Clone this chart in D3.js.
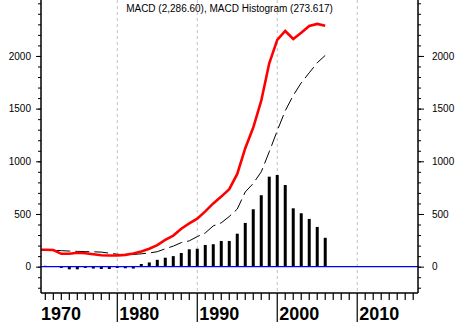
<!DOCTYPE html>
<html>
<head>
<meta charset="utf-8">
<script src="https://cdn.jsdelivr.net/npm/d3@7"></script>
<style>
    body { margin: 0; background: #fff; }
    svg { display: block; font-family: Arial, "Liberation Sans", sans-serif; }
</style>
</head>
<body>
<div class="svg_container"></div>
<script>
var years = d3.range(1970, 2007);

var macdValues = [160, 160, 158, 122, 122, 132, 128, 118, 108, 106,
    106, 112, 125, 145, 170, 205, 255, 295, 360, 410,
    455, 525, 600, 665, 735, 880, 1124, 1320, 1575, 1930,
    2152, 2237, 2161, 2221, 2285, 2304, 2287];

var signalValues = [160, 158, 155, 152, 148, 145, 143, 141, 138, 128,
    118, 112, 115, 122, 130, 142, 170, 195, 228, 245,
    285, 320, 387, 416, 476, 547, 709, 790, 900, 1090,
    1290, 1480, 1625, 1745, 1840, 1935, 2005];

var histYears = d3.range(1971, 2007);
var histValues = [8, 5, -12, -25, -25, -12, -18, -22, -22, -12,
    -15, -18, 25, 40, 65, 85, 100, 130, 165, 170,
    206, 213, 244, 244, 313, 415, 545, 678, 854, 870,
    775, 554, 507, 453, 377, 274];

var decadeLabels = [1970, 1980, 1990, 2000, 2010];
var valueLabels = [0, 500, 1000, 1500, 2000];
var titleText = "MACD (2,286.60), MACD Histogram (273.617)";

const WIDTH = 458;
const HEIGHT = 322;
const LEFT = 41;
const RIGHT = 418;
const TOP = 0;
const BOTTOM = 293;

var xScale = d3.scaleLinear()
    .domain([1970.46, 2017.6])
    .range([LEFT, RIGHT]);

var yScale = d3.scaleLinear()
    .domain([-250, 2531])
    .range([BOTTOM, TOP]);

var draw = function () {
    var svg = d3.select('.svg_container').append('svg')
        .attr('width', WIDTH)
        .attr('height', HEIGHT);

    svg.append('defs').append('clipPath')
        .attr('id', 'plot')
        .append('rect')
        .attr('x', LEFT).attr('y', TOP)
        .attr('width', RIGHT - LEFT).attr('height', BOTTOM - TOP);

    // dashed decade grid
    svg.append('g').selectAll('line')
        .data(decadeLabels.filter(function (d) { return xScale(d) > LEFT; }))
        .enter().append('line')
        .attr('x1', function (d) { return xScale(d); })
        .attr('x2', function (d) { return xScale(d); })
        .attr('y1', TOP).attr('y2', BOTTOM)
        .attr('stroke', '#c0c0c0')
        .attr('stroke-dasharray', '3,3');

    var plot = svg.append('g').attr('clip-path', 'url(#plot)');

    // histogram bars
    plot.append('g').selectAll('line')
        .data(histValues)
        .enter().append('line')
        .attr('x1', function (d, i) { return xScale(histYears[i]); })
        .attr('x2', function (d, i) { return xScale(histYears[i]); })
        .attr('y1', yScale(0))
        .attr('y2', function (d) { return yScale(d); })
        .attr('stroke', '#000')
        .attr('stroke-width', 3);

    // zero line
    plot.append('line')
        .attr('x1', LEFT).attr('x2', RIGHT)
        .attr('y1', yScale(0)).attr('y2', yScale(0))
        .attr('stroke', '#0000ff')
        .attr('stroke-width', 1.2);

    var line = d3.line()
        .x(function (d, i) { return xScale(years[i]); })
        .y(function (d) { return yScale(d); });

    plot.append('path')
        .attr('d', line(signalValues))
        .attr('fill', 'none')
        .attr('stroke', '#000')
        .attr('stroke-width', 1)
        .attr('stroke-dasharray', '14,5');

    plot.append('path')
        .attr('d', line(macdValues))
        .attr('fill', 'none')
        .attr('stroke', '#ff0000')
        .attr('stroke-width', 2.6);

    // y axes
    var fmt = d3.format('d');
    var leftAxis = d3.axisLeft(yScale)
        .tickValues(d3.range(-200, 2501, 100))
        .tickSize(3)
        .tickFormat('');
    var leftMajor = d3.axisLeft(yScale)
        .tickValues(valueLabels)
        .tickSize(5)
        .tickPadding(5)
        .tickFormat(fmt);
    var rightAxis = d3.axisRight(yScale)
        .tickValues(d3.range(-200, 2501, 100))
        .tickSize(3)
        .tickFormat('');
    var rightMajor = d3.axisRight(yScale)
        .tickValues(valueLabels)
        .tickSize(6)
        .tickPadding(8)
        .tickFormat(fmt);

    [[leftAxis, LEFT], [leftMajor, LEFT], [rightAxis, RIGHT], [rightMajor, RIGHT]].forEach(function (a) {
        var g = svg.append('g')
            .attr('transform', 'translate(' + a[1] + ',0)')
            .call(a[0]);
        g.select('.domain').remove();
        g.selectAll('line').attr('stroke', '#000');
        g.selectAll('text')
            .attr('font-size', 10)
            .attr('font-family', 'Arial, "Liberation Sans", sans-serif')
            .attr('fill', '#000');
    });

    svg.append('line')
        .attr('x1', LEFT).attr('x2', LEFT)
        .attr('y1', TOP).attr('y2', BOTTOM)
        .attr('stroke', '#000').attr('stroke-width', 1.5);
    svg.append('line')
        .attr('x1', RIGHT).attr('x2', RIGHT)
        .attr('y1', TOP).attr('y2', BOTTOM)
        .attr('stroke', '#000').attr('stroke-width', 1.5);
    svg.append('line')
        .attr('x1', LEFT).attr('x2', RIGHT)
        .attr('y1', BOTTOM).attr('y2', BOTTOM)
        .attr('stroke', '#000').attr('stroke-width', 1.5);

    // x axis: yearly minor ticks, decade major ticks
    var minorYears = d3.range(1971, 2018).filter(function (d) { return d % 10 !== 0; });
    svg.append('g').selectAll('line')
        .data(minorYears)
        .enter().append('line')
        .attr('x1', function (d) { return xScale(d); })
        .attr('x2', function (d) { return xScale(d); })
        .attr('y1', BOTTOM).attr('y2', BOTTOM + 7)
        .attr('stroke', '#000')
        .attr('stroke-width', 1.2);

    svg.append('g').selectAll('line')
        .data(decadeLabels.filter(function (d) { return xScale(d) > LEFT; }))
        .enter().append('line')
        .attr('x1', function (d) { return xScale(d); })
        .attr('x2', function (d) { return xScale(d); })
        .attr('y1', BOTTOM).attr('y2', HEIGHT)
        .attr('stroke', '#000')
        .attr('stroke-width', 1.2);

    svg.append('g').selectAll('text')
        .data(decadeLabels)
        .enter().append('text')
        .attr('x', function (d) { return Math.max(xScale(d) + 2, LEFT); })
        .attr('y', 319.5)
        .attr('font-size', 18)
        .attr('font-weight', 'bold')
        .attr('fill', '#000')
        .text(function (d) { return d; });

    svg.append('text')
        .attr('x', 229.5)
        .attr('y', 12)
        .attr('text-anchor', 'middle')
        .attr('font-size', 10)
        .attr('fill', '#000')
        .text(titleText);
};

draw();
</script>
</body>
</html>
